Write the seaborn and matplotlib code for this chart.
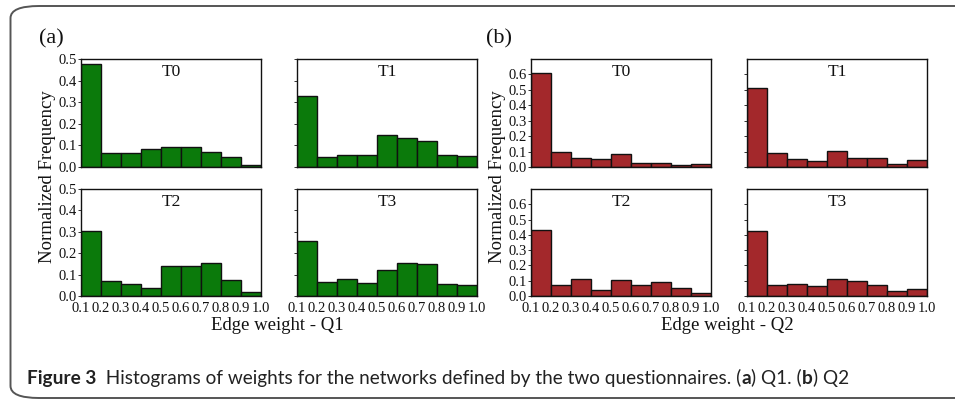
import numpy as np
import matplotlib
matplotlib.use('Agg')
import matplotlib.pyplot as plt
from matplotlib.patches import FancyBboxPatch
import seaborn as sns

# bin edges of the edge-weight histograms
bin_edges = [0.1, 0.2, 0.3, 0.4, 0.5, 0.6, 0.7, 0.8, 0.9, 1.0]
periods = ["T0", "T1", "T2", "T3"]

# normalized frequency per bin, questionnaire Q1
q1_t0 = [0.477, 0.065, 0.063, 0.082, 0.091, 0.093, 0.071, 0.048, 0.008]
q1_t1 = [0.327, 0.046, 0.054, 0.057, 0.146, 0.135, 0.122, 0.057, 0.050]
q1_t2 = [0.303, 0.071, 0.057, 0.036, 0.141, 0.142, 0.152, 0.074, 0.019]
q1_t3 = [0.255, 0.065, 0.079, 0.059, 0.121, 0.153, 0.149, 0.057, 0.053]

# normalized frequency per bin, questionnaire Q2
q2_t0 = [0.609, 0.099, 0.060, 0.052, 0.082, 0.024, 0.028, 0.013, 0.017]
q2_t1 = [0.512, 0.093, 0.052, 0.041, 0.102, 0.056, 0.060, 0.019, 0.043]
q2_t2 = [0.434, 0.071, 0.110, 0.037, 0.106, 0.073, 0.091, 0.050, 0.019]
q2_t3 = [0.425, 0.069, 0.076, 0.063, 0.110, 0.099, 0.071, 0.035, 0.048]

xtick_labels = ["0.1", "0.2", "0.3", "0.4", "0.5", "0.6", "0.7", "0.8", "0.9", "1.0"]
q1_yticks = [0.0, 0.1, 0.2, 0.3, 0.4, 0.5]
q2_yticks = [0.0, 0.1, 0.2, 0.3, 0.4, 0.5, 0.6]

sns.set_theme(style='white')
plt.rcParams['font.family'] = ['Liberation Serif', 'DejaVu Serif']

W, H = 955, 403
fig = plt.figure(figsize=(W / 100, H / 100), dpi=100)


def px_axes(x0, y0, x1, y1):
    # pixel box (top-left origin) -> figure axes
    return fig.add_axes([x0 / W, 1 - y1 / H, (x1 - x0) / W, (y1 - y0) / H])


def draw_panel(ox, series, color, ylim, yticks, xlabel, tag, tag_x, ylab_x):
    boxes = [(ox, 59, ox + 180, 167), (ox + 216, 59, ox + 396, 167),
             (ox, 189, ox + 180, 296), (ox + 216, 189, ox + 396, 296)]
    centers = [(a + b) / 2 for a, b in zip(bin_edges[:-1], bin_edges[1:])]
    for i, (box, vals, name) in enumerate(zip(boxes, series, periods)):
        ax = px_axes(*box)
        sns.histplot(x=centers, weights=vals, bins=bin_edges, ax=ax,
                     color=color, alpha=1, edgecolor='#111111', linewidth=1.0)
        ax.set_xlim(0.1, 1.0)
        ax.set_ylim(*ylim)
        ax.set_xlabel('')
        ax.set_ylabel('')
        ax.set_xticks(bin_edges)
        ax.set_yticks(yticks)
        if i >= 2:
            ax.set_xticklabels(xtick_labels)
        else:
            ax.set_xticklabels([])
        if i % 2 == 0:
            ax.set_yticklabels([f"{t:.1f}" for t in yticks])
        else:
            ax.set_yticklabels([])
        ax.tick_params(axis='both', which='both', length=2, width=0.6, pad=1,
                       labelsize=10.5, colors='#111111', left=True)
        ax.tick_params(axis='x', bottom=False, pad=2)
        for s in ax.spines.values():
            s.set_color('#111111')
            s.set_linewidth(1.0)
        ax.text(0.5, 0.955, name, transform=ax.transAxes, ha='center', va='top',
                fontsize=12.5, color='#111111')
    fig.text((ox + 196) / W, 1 - 325 / H, xlabel, ha='center', va='center',
             fontsize=13.5, color='#111111')
    fig.text(ylab_x / W, 1 - 177 / H, 'Normalized Frequency', rotation=90,
             ha='center', va='center', fontsize=13.5, color='#111111')
    fig.text(tag_x / W, 1 - 39 / H, tag, ha='left', va='center',
             fontsize=16, color='#111111')


draw_panel(81, [q1_t0, q1_t1, q1_t2, q1_t3], '#0b7a0b', (0, 0.5), q1_yticks,
           'Edge weight - Q1', '(a)', 39, 47)
draw_panel(531, [q2_t0, q2_t1, q2_t2, q2_t3], '#a3282b', (0, 0.7), q2_yticks,
           'Edge weight - Q2', '(b)', 486, 497)

# rounded frame around the figure (right side runs off the page)
frame = FancyBboxPatch((10.5 / W, 1 - 398 / H), 990 / W, 392 / H,
                       boxstyle='round,pad=0,rounding_size=0.03',
                       transform=fig.transFigure, fill=False,
                       edgecolor='#555555', linewidth=1.4, clip_on=False)
fig.patches.append(frame)

# caption, written as consecutive runs of plain and bold text
caption_runs = [("Figure 3", True), ("  Histograms of weights for the networks defined by "
                 "the two questionnaires. (", False), ("a", True), (") Q1. (", False),
                ("b", True), (") Q2", False)]
renderer = fig.canvas.get_renderer()
x_px = 27
for txt, bold in caption_runs:
    t = fig.text(x_px / W, 1 - 384 / H, txt, family=['Lato', 'DejaVu Sans'],
                 fontweight='bold' if bold else 'normal', fontsize=13.7,
                 ha='left', va='baseline', color='#222222')
    x_px += t.get_window_extent(renderer).width

fig.savefig('out.png', dpi=100)
